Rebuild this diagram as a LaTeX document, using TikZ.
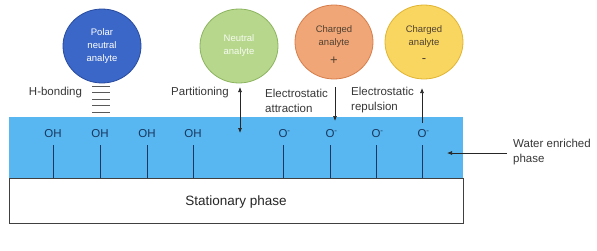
\documentclass[tikz,border=0pt]{standalone}
\usepackage{fontspec}
\setmainfont{Liberation Sans}
\usetikzlibrary{shapes.geometric,arrows.meta}
\definecolor{water}{RGB}{88,183,240}
\definecolor{polarF}{RGB}{58,103,200}
\definecolor{polarD}{RGB}{40,75,160}
\definecolor{greenF}{RGB}{183,216,140}
\definecolor{greenD}{RGB}{140,180,95}
\definecolor{orangeF}{RGB}{240,166,118}
\definecolor{orangeD}{RGB}{215,125,75}
\definecolor{yellowF}{RGB}{249,214,95}
\definecolor{yellowD}{RGB}{225,180,50}
\definecolor{chtext}{RGB}{80,65,50}
\definecolor{navy}{RGB}{25,55,95}
\definecolor{lbl}{RGB}{55,55,55}
\tikzset{
  analyte/.style={ellipse, minimum width=78pt, minimum height=74pt, inner sep=0pt, line width=0.8pt, align=center, font=\fontsize{9.5}{13}\selectfont},
  lab/.style={font=\fontsize{11.5}{15}\selectfont, text=lbl, inner sep=0pt, align=left},
  grp/.style={font=\fontsize{11.5}{13}\selectfont, text=navy, inner sep=1pt},
  stem/.style={navy, line width=0.8pt},
  arr/.style={line width=0.7pt, black!85, -{Latex[length=5pt,width=4pt]}},
  hb/.style={gray!70!black, line width=0.8pt}
}
\begin{document}
\begin{tikzpicture}[x=1pt,y=-1pt]
\useasboundingbox (0,0) rectangle (597,250);
% layers
\node[fill=water, minimum width=454pt, minimum height=61pt, inner sep=0pt, anchor=north west] (water) at (9,117) {};
\node[draw=black!75, fill=white, line width=0.9pt, minimum width=454pt, minimum height=45pt, inner sep=0pt, anchor=north west] (stat) at (9,178) {};
\node[font=\fontsize{13.5}{16}\selectfont, text=black!85, inner sep=0pt] (stattext) at (236,202) {Stationary phase};
% analytes
\node[analyte, fill=polarF, draw=polarD, text=white] (polar) at (102,46) {Polar\\neutral\\analyte};
\node[analyte, fill=greenF, draw=greenD, text=white!88!greenF] (neutral) at (239,46) {Neutral\\analyte};
\node[analyte, fill=orangeF, draw=orangeD, text=chtext] (chpos) at (334,42) {};
\node[analyte, fill=yellowF, draw=yellowD, text=chtext] (chneg) at (424,42) {};
\node[analyte, text=chtext] (chpostext) at (334,37) {Charged\\analyte};
\node[text=chtext, inner sep=0pt, font=\fontsize{13}{13}\selectfont] (plus) at (334,61) {+};
\node[analyte, text=chtext] (chnegtext) at (424,37) {Charged\\analyte};
\node[text=chtext, inner sep=0pt, font=\fontsize{13}{13}\selectfont] (minus) at (424,61) {-};
% surface groups
\foreach \i/\x in {1/53,2/100,3/147,4/193}{
  \node[grp] (oh\i) at (\x,134) {OH};
  \draw[stem] (\x,145) -- (\x,178);
}
\foreach \i/\x in {1/283,2/330,3/376,4/422}{
  \node[grp] (om\i) at (\x,134) {O\rlap{\raisebox{4.5pt}{\fontsize{8}{8}\selectfont -}}};
  \draw[stem] (\x,145) -- (\x,178);
}
% H-bonding
\node[lab] (hbond) at (55.5,93) {H-bonding};
\foreach \y in {86,92.5,99,105.5,112}{
  \draw[hb] (92,\y) -- (110,\y);
}
% partitioning
\node[lab] (part) at (200,93) {Partitioning};
\coordinate (p1) at (240,87);
\coordinate (p2) at (240,133);
\draw[arr, {Latex[length=5pt,width=4pt]}-{Latex[length=5pt,width=4pt]}] (p1) -- (p2);
% attraction
\node[lab, anchor=west] (attr) at (265,100.5) {Electrostatic\\attraction};
\coordinate (a1) at (335,87);
\coordinate (a2) at (335,121);
\draw[arr] (a1) -- (a2);
% repulsion
\node[lab, anchor=west] (rep) at (351,100.5) {Electrostatic\\repulsion};
\coordinate (r1) at (422,123);
\coordinate (r2) at (422,88);
\draw[arr] (r1) -- (r2);
% water label
\node[lab, anchor=west] (wlab) at (513,152) {Water enriched\\phase};
\coordinate (w1) at (507,153);
\coordinate (w2) at (447,153);
\draw[arr] (w1) -- (w2);
\end{tikzpicture}
\end{document}
